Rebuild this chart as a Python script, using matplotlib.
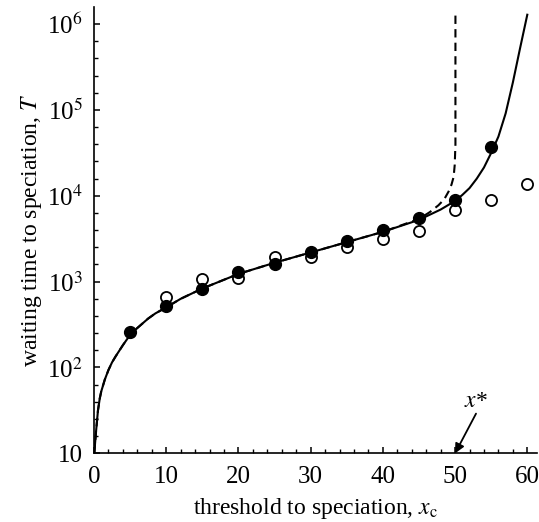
import numpy as np
import matplotlib
matplotlib.use("Agg")
import matplotlib.pyplot as plt
from matplotlib.ticker import FixedLocator, NullFormatter

plt.rcParams['font.family'] = ['Liberation Serif', 'DejaVu Serif']
plt.rcParams['mathtext.fontset'] = 'stix'

# simulation results
x_filled = [5, 10, 15, 20, 25, 30, 35, 40, 45, 50, 55]
T_filled = [261, 525, 822, 1300, 1596, 2238, 3006, 4006, 5478, 8959, 36800]
x_open = [10, 15, 20, 25, 30, 35, 40, 45, 50, 55, 60]
T_open = [658, 1066, 1090, 1955, 1925, 2518, 3146, 3900, 6850, 8960, 13650]

# theory curves, traced points (x, log10 T)
x_solid = [0.05, 0.15, 0.3, 0.55, 0.8, 1.0, 1.5, 2.0, 2.5, 3.0, 4.0, 5.0, 6.0, 7.5, 8.5,
           10, 12, 15, 20, 25, 30, 35, 40, 45, 48, 50, 51, 52, 53, 54, 55, 56, 57,
           58, 59, 60.0]
logT_solid = [1.0, 1.12, 1.27, 1.50, 1.64, 1.72, 1.86, 1.97, 2.06, 2.13, 2.26, 2.38, 2.46,
              2.57, 2.63, 2.70, 2.80, 2.92, 3.09, 3.22, 3.34, 3.46, 3.58, 3.72, 3.84,
              3.94, 4.01, 4.09, 4.20, 4.33, 4.50, 4.69, 4.96, 5.32, 5.72, 6.11]
x_dash = [0.05, 0.15, 0.3, 0.55, 0.8, 1.0, 1.5, 2.0, 2.5, 3.0, 4.0, 5.0, 6.0, 7.5, 8.5,
          10, 12, 15, 20, 25, 30, 35, 40, 45, 46.5, 47.7, 48.5, 49.1, 49.5, 49.8,
          49.95, 50.05, 50.05]
logT_dash = [1.0, 1.12, 1.27, 1.50, 1.64, 1.72, 1.86, 1.97, 2.06, 2.13, 2.26, 2.38, 2.46,
             2.57, 2.63, 2.70, 2.80, 2.92, 3.09, 3.22, 3.34, 3.46, 3.58, 3.73, 3.81,
             3.89, 3.96, 4.05, 4.13, 4.22, 4.36, 4.6, 6.11]

fig = plt.figure(figsize=(5.39, 5.22), dpi=100)
ax = fig.add_axes([0.1744, 0.1316, 0.9957 - 0.1744, 0.9866 - 0.1316])

ax.plot(x_solid, 10 ** np.array(logT_solid), color='black', lw=1.5, zorder=2)
ax.plot(x_dash, 10 ** np.array(logT_dash), color='black', lw=1.5, ls=(0, (4, 2.5)), zorder=2)
ax.plot(x_open, T_open, 'o', mfc='white', mec='black', mew=1.3, ms=8, zorder=3)
ax.plot(x_filled, T_filled, 'o', mfc='black', mec='black', ms=8.5, zorder=4)

ax.set_yscale('log')
ax.set_xlim(0, 61.3)
ax.set_ylim(10, 10 ** 6.2)

ax.spines['top'].set_visible(False)
ax.spines['right'].set_visible(False)
ax.spines['left'].set_linewidth(1.2)
ax.spines['bottom'].set_linewidth(1.2)

ax.set_xticks([0, 10, 20, 30, 40, 50, 60])
ax.xaxis.set_minor_locator(FixedLocator(np.arange(0, 61, 2)))
ax.set_yticks([1e1, 1e2, 1e3, 1e4, 1e5, 1e6])
ax.set_yticklabels(['10', '10$^{2}$', '10$^{3}$', '10$^{4}$', '10$^{5}$', '10$^{6}$'])
minor_y = [10 ** v for v in np.arange(1, 6.01, 0.2) if abs(v - round(v)) > 0.05]
ax.yaxis.set_minor_locator(FixedLocator(minor_y))
ax.yaxis.set_minor_formatter(NullFormatter())

ax.tick_params(which='major', direction='in', length=4, width=1.1, labelsize=18)
ax.tick_params(axis='x', which='major', pad=9)
ax.tick_params(axis='y', which='major', pad=8)
ax.tick_params(which='minor', direction='in', length=2.6, width=1.0)

ax.set_xlabel('threshold to speciation, $x_{\\mathrm{c}}$', fontsize=17, labelpad=6)
ax.set_ylabel('waiting time to speciation, $T$', fontsize=17, labelpad=2)

# x* marker: label plus arrow down to the axis
ax.text(52.9, 40, '$x$*', fontsize=17, ha='center', va='center')
ax.annotate('', xy=(50, 10), xytext=(52.9, 29),
            arrowprops=dict(arrowstyle='-|>', color='black', lw=1.3, shrinkA=0, shrinkB=0,
                            mutation_scale=14))

fig.savefig('out.png', dpi=100)
